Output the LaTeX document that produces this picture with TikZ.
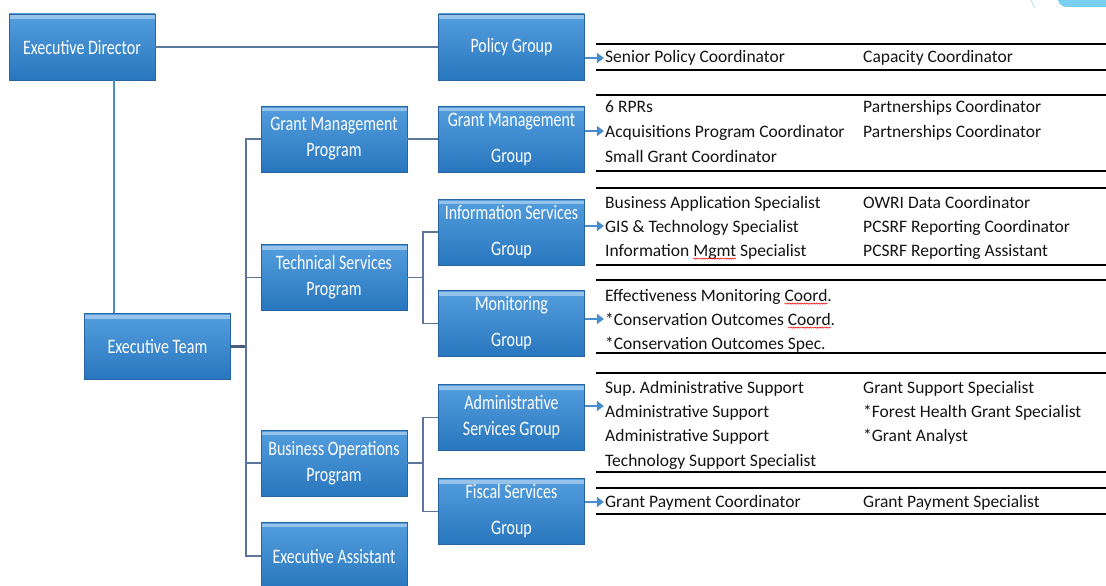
\documentclass[tikz,border=0pt]{standalone}
\usepackage{fontspec}
\setmainfont{Carlito}
\newfontfamily\boxfont[FakeStretch=0.78]{Carlito}
\usetikzlibrary{decorations.pathmorphing,arrows.meta}

\definecolor{boxtop}{RGB}{84,158,222}
\definecolor{boxbot}{RGB}{40,118,190}
\definecolor{boxedge}{RGB}{40,100,160}
\definecolor{connc}{RGB}{92,118,155}
\definecolor{arrowblue}{RGB}{72,142,206}
\definecolor{cornerc}{RGB}{122,207,238}
\definecolor{roletext}{RGB}{20,20,20}

\newsavebox\wbox
\newcommand\wavy[1]{\sbox\wbox{#1}\usebox\wbox\tikz[overlay]\draw[red,line width=0.5pt,decorate,decoration={snake,amplitude=0.6pt,segment length=2.4pt}] (-\the\wd\wbox,-2.6pt) -- (0pt,-2.6pt);}

\tikzset{
 orgbox/.style={draw=boxedge, line width=0.8pt, top color=boxtop, bottom color=boxbot,
   minimum width=146pt, minimum height=66pt, inner sep=0pt, text=white, align=center,
   font=\boxfont\fontsize{20.5}{26}\selectfont,
   path picture={\fill[white,opacity=0.4] ([yshift=-1.5pt]path picture bounding box.north west) rectangle ([yshift=-5pt]path picture bounding box.north east);}},
 tallsp/.style={font=\boxfont\fontsize{20.5}{36}\selectfont},
 connline/.style={draw=connc, line width=1.3pt},
 edline/.style={draw=arrowblue, line width=2pt},
 feed/.style={draw=arrowblue, line width=2.4pt, -{Triangle[length=7pt,width=10pt]}},
 tablerule/.style={draw=black, line width=1.3pt},
 role/.style={anchor=base west, inner sep=0pt, text=roletext, font=\fontsize{17.5}{21}\selectfont},
}

\begin{document}
\begin{tikzpicture}[x=1pt,y=-1pt]
\useasboundingbox (0,0) rectangle (1106,586);
\fill[white] (0,0) rectangle (1106,586);
\clip (0,0) rectangle (1106,586);

% corner decoration
\fill[cornerc] (1058,0) -- (1106,0) -- (1106,7) -- (1067,7) .. controls (1062,7) and (1059,4) .. (1058,0) -- cycle;
\draw[cornerc!60,line width=0.8pt] (1031,0) -- (1035,8);

% boxes
\node[orgbox] (ed)  at (82,47)    {Executive  Director};
\node[orgbox] (pg)  at (511.5,47) {Policy Group};
\node[orgbox] (gmp) at (334,139)  {Grant Management\\Program};
\node[orgbox,tallsp] (gmg) at (511.5,139) {Grant Management\\Group};
\node[orgbox,tallsp] (isg) at (511.5,232) {Information  Services\\Group};
\node[orgbox] (tsp) at (334,277.5) {Technical Services\\Program};
\node[orgbox,tallsp] (mg)  at (511.5,323.5) {Monitoring\\Group};
\node[orgbox] (et)  at (157.5,346.5) {Executive  Team};
\node[orgbox] (asg) at (511.5,417.5) {Administrative\\Services Group};
\node[orgbox] (bop) at (334,463)  {Business Operations\\Program};
\node[orgbox,tallsp] (fsg) at (511.5,511.5) {Fiscal Services\\Group};
\node[orgbox,minimum height=68pt] (ea)  at (334,556) {Executive  Assistant};

% connectors
\coordinate (tk) at (246,0);
\coordinate (bx) at (423,0);
\draw[connline] (ed.east) -- (pg.west);
\draw[edline] ([xshift=32pt]ed.south) -- ([xshift=32pt]ed.south |- et.north);
\draw[draw=connc!80!black,line width=2.2pt] (et.east) -- (et.east -| tk);
\draw[connline] (gmp.west) -- (gmp.west -| tk) -- (ea.west -| tk) -- (ea.west);
\draw[connline] (tsp.west) -- (tsp.west -| tk);
\draw[connline] (bop.west) -- (bop.west -| tk);
\draw[connline] (gmp.east) -- (gmg.west);
\draw[connline] (tsp.east) -- (tsp.east -| bx);
\draw[connline] (isg.west) -- (isg.west -| bx) -- (mg.west -| bx) -- (mg.west);
\draw[connline] (bop.east) -- (bop.east -| bx);
\draw[connline] (asg.west) -- (asg.west -| bx) -- (fsg.west -| bx) -- (fsg.west);

% table rules
\foreach \yy in {44,70,95,171,188,265,280,353,373,472,488,514}
  \draw[tablerule] (596,\yy) -- (1106,\yy);

% role texts
\node[role] (p1) at (605,63) {Senior Policy Coordinator};
\node[role] (p2) at (863,63) {Capacity Coordinator};

\node[role] (g1) at (605,112) {6 RPRs};
\node[role] (g2) at (605,137) {Acquisitions Program Coordinator};
\node[role] (g3) at (605,162) {Small Grant Coordinator};
\node[role] (g4) at (863,112) {Partnerships Coordinator};
\node[role] (g5) at (863,137) {Partnerships Coordinator};

\node[role] (i1) at (605,208) {Business Application Specialist};
\node[role] (i2) at (605,232) {GIS \& Technology Specialist};
\node[role] (i3) at (605,256) {Information \wavy{Mgmt} Specialist};
\node[role] (i4) at (863,208) {OWRI Data Coordinator};
\node[role] (i5) at (863,232) {PCSRF Reporting Coordinator};
\node[role] (i6) at (863,256) {PCSRF Reporting Assistant};

\node[role] (m1) at (605,301) {Effectiveness Monitoring \wavy{Coord}.};
\node[role] (m2) at (605,325) {*Conservation Outcomes \wavy{Coord}.};
\node[role] (m3) at (605,349) {*Conservation Outcomes Spec.};

\node[role] (a1) at (605,393) {Sup.\ Administrative Support};
\node[role] (a2) at (605,417) {Administrative Support};
\node[role] (a3) at (605,441) {Administrative Support};
\node[role] (a4) at (605,466) {Technology Support Specialist};
\node[role] (a5) at (863,393) {Grant Support Specialist};
\node[role] (a6) at (863,417) {*Forest Health Grant Specialist};
\node[role] (a7) at (863,441) {*Grant Analyst};

\node[role] (f1) at (605,507) {Grant Payment Coordinator};
\node[role] (f2) at (863,507) {Grant Payment Specialist};

% feed arrows
\draw[feed] ([yshift=-11pt]pg.east)  -- ++(19,0);
\draw[feed] ([yshift=8pt]gmg.east)   -- ++(19,0);
\draw[feed] ([yshift=6pt]isg.east)   -- ++(19,0);
\draw[feed] ([yshift=4.5pt]mg.east)  -- ++(19,0);
\draw[feed] ([yshift=11.5pt]asg.east) -- ++(19,0);
\draw[feed] ([yshift=9.5pt]fsg.east) -- ++(19,0);
\end{tikzpicture}
\end{document}
